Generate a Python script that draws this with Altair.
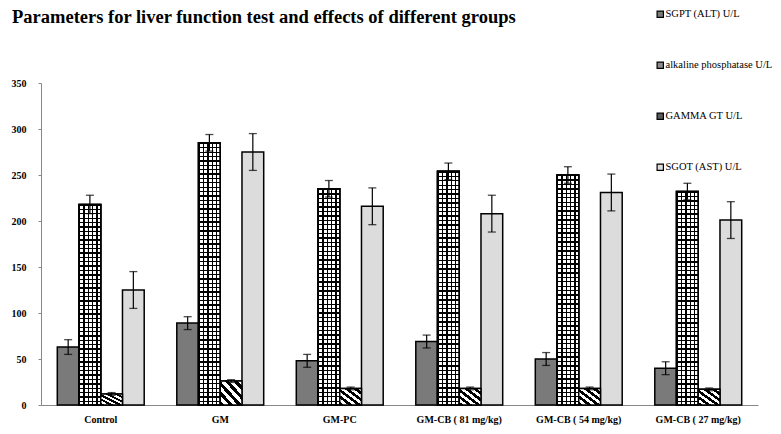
import altair as alt
import pandas as pd

title_text = "Parameters for liver function test and effects of different groups"
categories = ["Control", "GM", "GM-PC", "GM-CB ( 81 mg/kg)", "GM-CB ( 54 mg/kg)", "GM-CB ( 27 mg/kg)"]
series = ["SGPT (ALT) U/L", "alkaline phosphatase U/L", "GAMMA GT U/L", "SGOT (AST) U/L"]

sgpt = [63, 89, 48, 69, 50, 40]
sgpt_err = [8, 7, 7, 7, 7, 7]
alp = [218, 285, 235, 254, 250, 232]
alp_err = [10, 9, 9, 9, 9, 9]
ggt = [12, 26, 18, 18, 18, 17]
ggt_err = [1.5, 1.5, 1.5, 1.5, 1.5, 1.5]
ast = [125, 275, 216, 208, 231, 201]
ast_err = [20, 20, 20, 20, 20, 20]

vals = [sgpt, alp, ggt, ast]
errs = [sgpt_err, alp_err, ggt_err, ast_err]

rows = []
for s, v, e in zip(series, vals, errs):
    for c, vv, ee in zip(categories, v, e):
        rows.append({"group": c, "series": s, "value": vv, "lo": vv - ee, "hi": vv + ee})
df = pd.DataFrame(rows)

FONT = "Liberation Serif, Times New Roman, serif"
PLOT_H = 322
Y_MAX = 350

x = alt.X("group:N", sort=categories,
          scale=alt.Scale(domain=categories, paddingInner=0, paddingOuter=0),
          axis=alt.Axis(title=None, labelAngle=0, ticks=False, labelPadding=9,
                        labelFont=FONT, labelFontWeight="bold", labelFontSize=10,
                        labelColor="black", domainColor="#888888"))
xo = alt.XOffset("series:N", scale=alt.Scale(domain=series, paddingInner=0, paddingOuter=0.75))
y = alt.Y("value:Q", scale=alt.Scale(domain=[0, Y_MAX], nice=False),
          axis=alt.Axis(title=None, values=[0, 50, 100, 150, 200, 250, 300, 350], grid=False,
                        tickSize=3, tickColor="#888888", labelPadding=12,
                        labelFont=FONT, labelFontWeight="bold", labelFontSize=10,
                        labelColor="black", domainColor="#888888"))

base = alt.Chart(df)

bars = base.mark_bar(stroke="black", strokeWidth=1.5).encode(
    x=x, xOffset=xo, y=y,
    fill=alt.Fill("series:N", sort=series,
                  scale=alt.Scale(domain=series, range=["#7a7a7a", "#8c8c8c", "#5a5a5a", "#dcdcdc"]),
                  legend=alt.Legend(title=None, orient="none", legendX=614, legendY=-74,
                                    symbolType="square", symbolSize=40, symbolStrokeColor="black",
                                    symbolStrokeWidth=1.2, rowPadding=39, labelLimit=300,
                                    labelOffset=0, labelFont=FONT, labelFontSize=10.5,
                                    labelColor="black"))
)

def stripes(n, x1, y1, x2, y2, dark="black", light="white", w=0.35):
    stops = []
    for i in range(n):
        a = i / n
        b = a + w / n
        stops += [{"offset": a, "color": dark}, {"offset": b, "color": dark},
                  {"offset": b, "color": light}, {"offset": (i + 1) / n, "color": light}]
    return {"gradient": "linear", "x1": x1, "y1": y1, "x2": x2, "y2": y2, "stops": stops}

layers = [bars]
# alkaline phosphatase: grid pattern (vertical lines + horizontal lines)
layers.append(base.transform_filter(alt.datum.series == series[1]).mark_bar(
    fill=stripes(5, 0, 0, 1, 0, w=0.3), stroke="black", strokeWidth=1.5).encode(x=x, xOffset=xo, y=y))
for c, v in zip(categories, alp):
    n = max(1, round(v * PLOT_H / Y_MAX / 4.4))
    layers.append(base.transform_filter(
        (alt.datum.series == series[1]) & (alt.datum.group == c)).mark_bar(
        fill=stripes(n, 0, 0, 0, 1, light="rgba(255,255,255,0)", w=0.3),
        stroke="black", strokeWidth=1.5).encode(x=x, xOffset=xo, y=y))
# gamma GT: diagonal stripes
layers.append(base.transform_filter(alt.datum.series == series[2]).mark_bar(
    fill=stripes(5, 0, 1, 1, 0, w=0.5), stroke="black", strokeWidth=1.5).encode(x=x, xOffset=xo, y=y))

layers.append(base.mark_rule(color="black", strokeWidth=1.2).encode(
    x=x, xOffset=xo, y=alt.Y("lo:Q"), y2="hi:Q"))
layers.append(base.mark_tick(color="black", size=8, thickness=1.3).encode(x=x, xOffset=xo, y=alt.Y("hi:Q")))
layers.append(base.mark_tick(color="black", size=8, thickness=1.3).encode(x=x, xOffset=xo, y=alt.Y("lo:Q")))

layers.append(alt.Chart(pd.DataFrame({"t": [title_text]})).mark_text(
    align="left", baseline="alphabetic", font=FONT, fontWeight="bold", fontSize=18.5, color="black"
).encode(x=alt.value(-29), y=alt.value(-60), text="t:N"))

chart = alt.layer(*layers).properties(
    width=717, height=PLOT_H,
    autosize=alt.AutoSizeParams(type="none"),
    padding={"left": 33, "top": 75, "right": 15, "bottom": 21},
).configure_view(stroke=None)

chart.save("out.html", embed_options={"renderer": "svg", "actions": False})
